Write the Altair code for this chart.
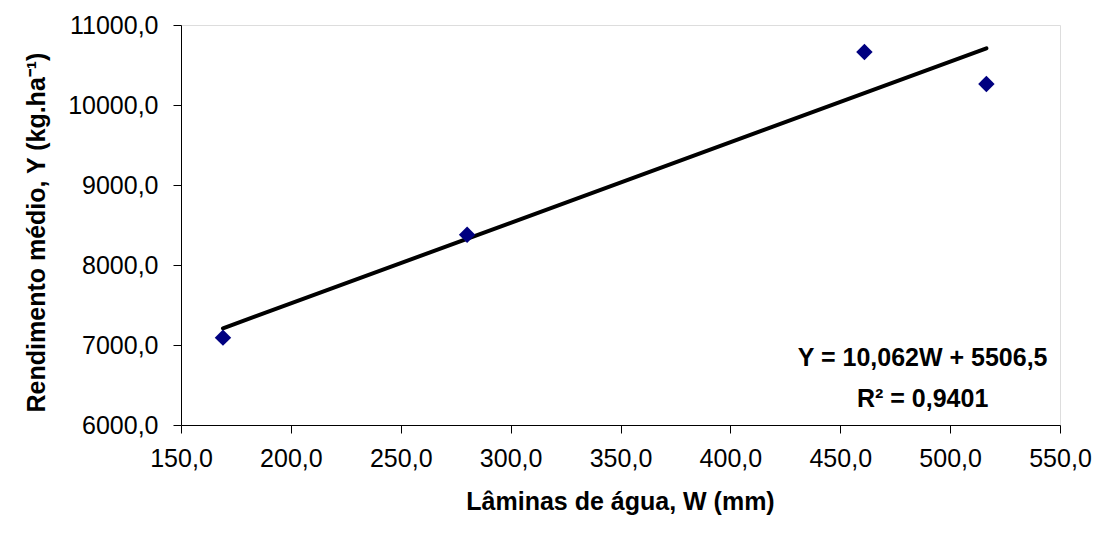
import altair as alt
import pandas as pd

laminas = [169.1, 280.2, 461.0, 516.5]
rendimento = [7092, 8378, 10662, 10262]

# Annotation text (regression equation as printed on chart)
ann_text = ["Y = 10,062W + 5506,5", "R² = 0,9401"]
ann_x = [487.5, 487.5]
ann_y = [6840, 6330]

x_ticks = [150, 200, 250, 300, 350, 400, 450, 500, 550]
y_ticks = [6000, 7000, 8000, 9000, 10000, 11000]

df = pd.DataFrame({"W": laminas, "Y": rendimento})
ann = pd.DataFrame({"x": ann_x, "y": ann_y, "t": ann_text})

FONT = "Liberation Sans"
FS = 25
fmt = "replace(format(datum.value, '.1f'), '.', ',')"

xscale = alt.Scale(domain=[150, 550], nice=False, zero=False)
yscale = alt.Scale(domain=[6000, 11000], nice=False, zero=False)

xaxis = alt.Axis(
    values=x_ticks, labelExpr=fmt, grid=False, labelFlush=False, labelOverlap=False,
    domainColor="#000000", tickColor="#000000", tickSize=8,
    labelColor="#000000", labelFont=FONT, labelFontSize=FS, labelPadding=13,
    title="Lâminas de água, W (mm)", titleFont=FONT, titleFontSize=FS,
    titleFontWeight="bold", titleColor="#000000",
    titleX=439, titleY=76, titleAnchor="middle", titleAlign="center", titleBaseline="middle",
)
yaxis = alt.Axis(
    values=y_ticks, labelExpr=fmt, grid=False, labelFlush=False, labelOverlap=False,
    domainColor="#000000", tickColor="#000000", tickSize=8,
    labelColor="#000000", labelFont=FONT, labelFontSize=FS, labelPadding=15,
    title="Rendimento médio, Y (kg.ha⁻¹)", titleFont=FONT, titleFontSize=FS,
    titleFontWeight="bold", titleColor="#000000",
    titleX=-145, titleY=207, titleAngle=-90, titleAlign="center", titleBaseline="middle",
)

base = alt.Chart(df)

points = base.mark_point(shape="diamond", filled=True, size=270, color="#000080", opacity=1).encode(
    x=alt.X("W:Q", scale=xscale, axis=xaxis),
    y=alt.Y("Y:Q", scale=yscale, axis=yaxis),
)

trend = base.transform_regression("W", "Y", method="linear").mark_line(
    color="#000000", strokeWidth=4, strokeCap="round"
).encode(
    x=alt.X("W:Q", scale=xscale),
    y=alt.Y("Y:Q", scale=yscale),
)

labels = alt.Chart(ann).mark_text(
    font=FONT, fontSize=FS, fontWeight="bold", color="#000000", align="center", baseline="middle"
).encode(
    x=alt.X("x:Q", scale=xscale),
    y=alt.Y("y:Q", scale=yscale),
    text="t:N",
)

chart = alt.layer(trend, points, labels).properties(
    width=879, height=400,
    autosize=alt.AutoSizeParams(type="none"),
    padding={"left": 173, "top": 17, "right": 34, "bottom": 106},
).configure_view(stroke=None).configure(background="#ffffff")

chart.save("out.html", embed_options={"renderer": "svg", "actions": False})
